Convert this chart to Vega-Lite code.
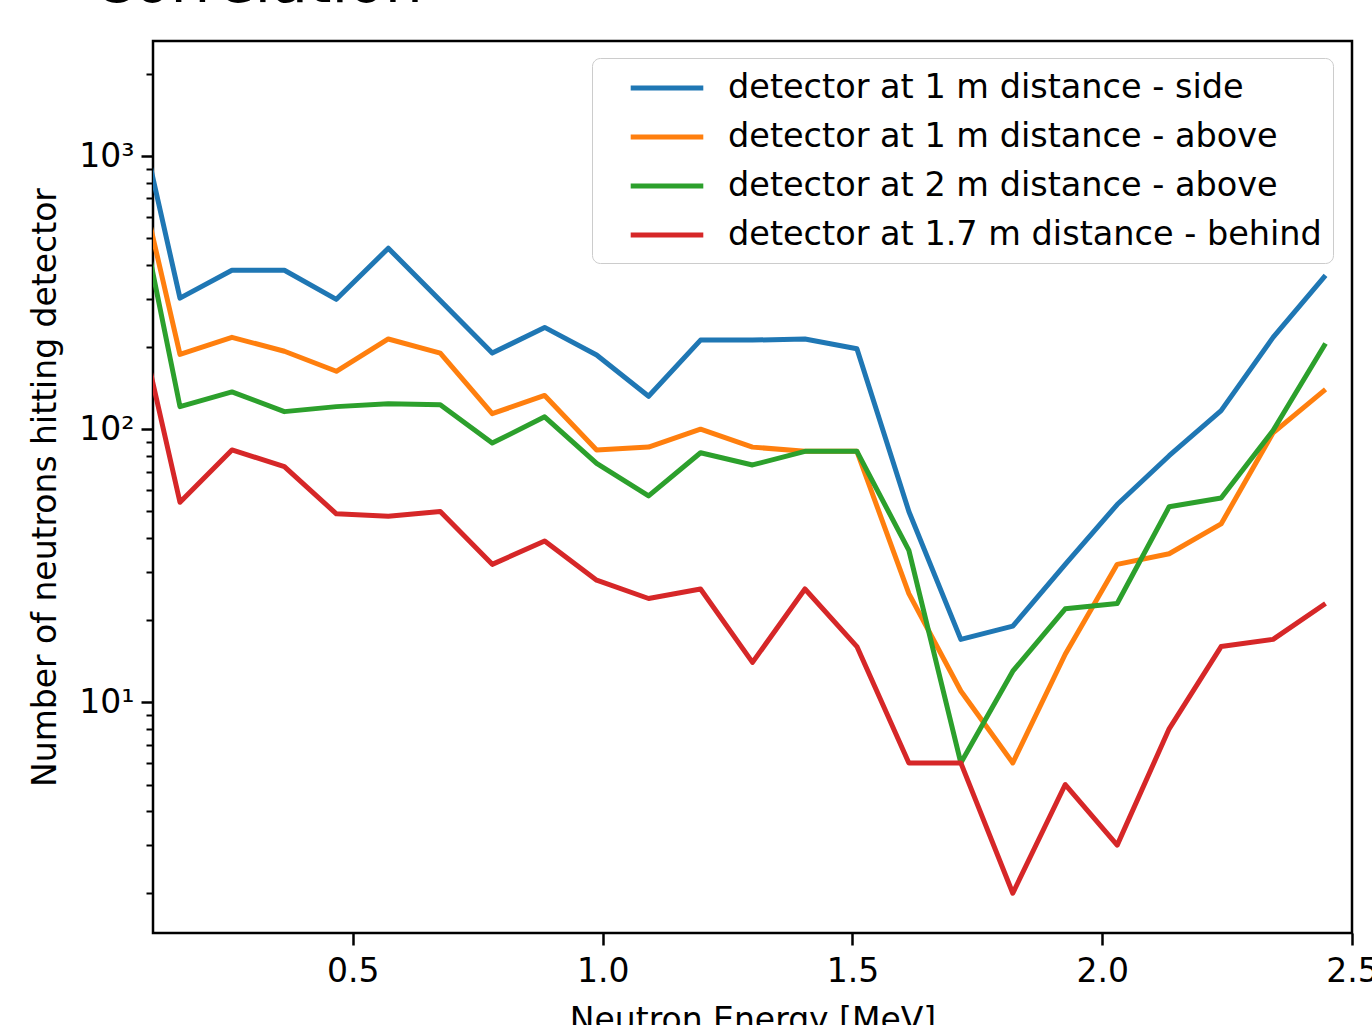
{
  "$schema": "https://vega.github.io/schema/vega-lite/v6.json",
  "autosize": {"type": "none"},
  "width": 1199,
  "height": 892,
  "padding": {"left": 153, "top": 41, "right": 20, "bottom": 92},
  "background": "white",
  "config": {
    "font": "DejaVu Sans",
    "view": {"stroke": "black", "strokeWidth": 2.5}
  },
  "title": {
    "text": "Correlation",
    "anchor": "start",
    "frame": "group",
    "dx": -61,
    "offset": -21,
    "fontSize": 60,
    "fontWeight": "normal",
    "baseline": "alphabetic",
    "color": "black"
  },
  "data": {
    "values": [
      {"E": 0.05, "d": "detector at 1 m distance - side", "n": 2113},
      {"E": 0.154, "d": "detector at 1 m distance - side", "n": 302},
      {"E": 0.258, "d": "detector at 1 m distance - side", "n": 382},
      {"E": 0.363, "d": "detector at 1 m distance - side", "n": 382},
      {"E": 0.467, "d": "detector at 1 m distance - side", "n": 299},
      {"E": 0.571, "d": "detector at 1 m distance - side", "n": 460},
      {"E": 0.675, "d": "detector at 1 m distance - side", "n": 296},
      {"E": 0.779, "d": "detector at 1 m distance - side", "n": 190},
      {"E": 0.884, "d": "detector at 1 m distance - side", "n": 236},
      {"E": 0.988, "d": "detector at 1 m distance - side", "n": 187},
      {"E": 1.092, "d": "detector at 1 m distance - side", "n": 132},
      {"E": 1.196, "d": "detector at 1 m distance - side", "n": 212},
      {"E": 1.3, "d": "detector at 1 m distance - side", "n": 212},
      {"E": 1.405, "d": "detector at 1 m distance - side", "n": 214},
      {"E": 1.509, "d": "detector at 1 m distance - side", "n": 197},
      {"E": 1.613, "d": "detector at 1 m distance - side", "n": 50},
      {"E": 1.717, "d": "detector at 1 m distance - side", "n": 17},
      {"E": 1.821, "d": "detector at 1 m distance - side", "n": 19},
      {"E": 1.926, "d": "detector at 1 m distance - side", "n": 32},
      {"E": 2.03, "d": "detector at 1 m distance - side", "n": 53},
      {"E": 2.134, "d": "detector at 1 m distance - side", "n": 80},
      {"E": 2.238, "d": "detector at 1 m distance - side", "n": 117},
      {"E": 2.342, "d": "detector at 1 m distance - side", "n": 217},
      {"E": 2.447, "d": "detector at 1 m distance - side", "n": 366},

      {"E": 0.05, "d": "detector at 1 m distance - above", "n": 1253},
      {"E": 0.154, "d": "detector at 1 m distance - above", "n": 188},
      {"E": 0.258, "d": "detector at 1 m distance - above", "n": 217},
      {"E": 0.363, "d": "detector at 1 m distance - above", "n": 193},
      {"E": 0.467, "d": "detector at 1 m distance - above", "n": 163},
      {"E": 0.571, "d": "detector at 1 m distance - above", "n": 214},
      {"E": 0.675, "d": "detector at 1 m distance - above", "n": 190},
      {"E": 0.779, "d": "detector at 1 m distance - above", "n": 114},
      {"E": 0.884, "d": "detector at 1 m distance - above", "n": 133},
      {"E": 0.988, "d": "detector at 1 m distance - above", "n": 84},
      {"E": 1.092, "d": "detector at 1 m distance - above", "n": 86},
      {"E": 1.196, "d": "detector at 1 m distance - above", "n": 100},
      {"E": 1.3, "d": "detector at 1 m distance - above", "n": 86},
      {"E": 1.405, "d": "detector at 1 m distance - above", "n": 83},
      {"E": 1.509, "d": "detector at 1 m distance - above", "n": 83},
      {"E": 1.613, "d": "detector at 1 m distance - above", "n": 25},
      {"E": 1.717, "d": "detector at 1 m distance - above", "n": 11},
      {"E": 1.821, "d": "detector at 1 m distance - above", "n": 6},
      {"E": 1.926, "d": "detector at 1 m distance - above", "n": 15},
      {"E": 2.03, "d": "detector at 1 m distance - above", "n": 32},
      {"E": 2.134, "d": "detector at 1 m distance - above", "n": 35},
      {"E": 2.238, "d": "detector at 1 m distance - above", "n": 45},
      {"E": 2.342, "d": "detector at 1 m distance - above", "n": 97},
      {"E": 2.447, "d": "detector at 1 m distance - above", "n": 140},

      {"E": 0.05, "d": "detector at 2 m distance - above", "n": 1049},
      {"E": 0.154, "d": "detector at 2 m distance - above", "n": 121},
      {"E": 0.258, "d": "detector at 2 m distance - above", "n": 137},
      {"E": 0.363, "d": "detector at 2 m distance - above", "n": 116},
      {"E": 0.467, "d": "detector at 2 m distance - above", "n": 121},
      {"E": 0.571, "d": "detector at 2 m distance - above", "n": 124},
      {"E": 0.675, "d": "detector at 2 m distance - above", "n": 123},
      {"E": 0.779, "d": "detector at 2 m distance - above", "n": 89},
      {"E": 0.884, "d": "detector at 2 m distance - above", "n": 111},
      {"E": 0.988, "d": "detector at 2 m distance - above", "n": 75},
      {"E": 1.092, "d": "detector at 2 m distance - above", "n": 57},
      {"E": 1.196, "d": "detector at 2 m distance - above", "n": 82},
      {"E": 1.3, "d": "detector at 2 m distance - above", "n": 74},
      {"E": 1.405, "d": "detector at 2 m distance - above", "n": 83},
      {"E": 1.509, "d": "detector at 2 m distance - above", "n": 83},
      {"E": 1.613, "d": "detector at 2 m distance - above", "n": 36},
      {"E": 1.717, "d": "detector at 2 m distance - above", "n": 6},
      {"E": 1.821, "d": "detector at 2 m distance - above", "n": 13},
      {"E": 1.926, "d": "detector at 2 m distance - above", "n": 22},
      {"E": 2.03, "d": "detector at 2 m distance - above", "n": 23},
      {"E": 2.134, "d": "detector at 2 m distance - above", "n": 52},
      {"E": 2.238, "d": "detector at 2 m distance - above", "n": 56},
      {"E": 2.342, "d": "detector at 2 m distance - above", "n": 99},
      {"E": 2.447, "d": "detector at 2 m distance - above", "n": 206},

      {"E": 0.05, "d": "detector at 1.7 m distance - behind", "n": 372},
      {"E": 0.154, "d": "detector at 1.7 m distance - behind", "n": 54},
      {"E": 0.258, "d": "detector at 1.7 m distance - behind", "n": 84},
      {"E": 0.363, "d": "detector at 1.7 m distance - behind", "n": 73},
      {"E": 0.467, "d": "detector at 1.7 m distance - behind", "n": 49},
      {"E": 0.571, "d": "detector at 1.7 m distance - behind", "n": 48},
      {"E": 0.675, "d": "detector at 1.7 m distance - behind", "n": 50},
      {"E": 0.779, "d": "detector at 1.7 m distance - behind", "n": 32},
      {"E": 0.884, "d": "detector at 1.7 m distance - behind", "n": 39},
      {"E": 0.988, "d": "detector at 1.7 m distance - behind", "n": 28},
      {"E": 1.092, "d": "detector at 1.7 m distance - behind", "n": 24},
      {"E": 1.196, "d": "detector at 1.7 m distance - behind", "n": 26},
      {"E": 1.3, "d": "detector at 1.7 m distance - behind", "n": 14},
      {"E": 1.405, "d": "detector at 1.7 m distance - behind", "n": 26},
      {"E": 1.509, "d": "detector at 1.7 m distance - behind", "n": 16},
      {"E": 1.613, "d": "detector at 1.7 m distance - behind", "n": 6},
      {"E": 1.717, "d": "detector at 1.7 m distance - behind", "n": 6},
      {"E": 1.821, "d": "detector at 1.7 m distance - behind", "n": 2},
      {"E": 1.926, "d": "detector at 1.7 m distance - behind", "n": 5},
      {"E": 2.03, "d": "detector at 1.7 m distance - behind", "n": 3},
      {"E": 2.134, "d": "detector at 1.7 m distance - behind", "n": 8},
      {"E": 2.238, "d": "detector at 1.7 m distance - behind", "n": 16},
      {"E": 2.342, "d": "detector at 1.7 m distance - behind", "n": 17},
      {"E": 2.447, "d": "detector at 1.7 m distance - behind", "n": 23}
    ]
  },
  "mark": {"type": "line", "strokeWidth": 5, "clip": true, "strokeJoin": "round", "strokeCap": "butt"},
  "encoding": {
    "x": {
      "field": "E",
      "type": "quantitative",
      "scale": {"domain": [0.1, 2.5], "nice": false, "zero": false},
      "axis": {
        "title": "Neutron Energy [MeV]",
        "values": [0.5, 1.0, 1.5, 2.0, 2.5],
        "format": ".1f",
        "grid": false,
        "domain": false,
        "ticks": true,
        "tickSize": 12,
        "tickWidth": 2.5,
        "tickColor": "black",
        "labelFontSize": 33,
        "labelColor": "black",
        "labelPadding": 10,
        "labelFlush": false,
        "labelOverlap": false,
        "titleFontSize": 33,
        "titleFontWeight": "normal",
        "titleColor": "black",
        "titlePadding": 16
      }
    },
    "y": {
      "field": "n",
      "type": "quantitative",
      "scale": {"type": "log", "domain": [1.43, 2640], "nice": false, "zero": false},
      "axis": {
        "title": "Number of neutrons hitting detector",
        "values": [2, 3, 4, 5, 6, 7, 8, 9, 10, 20, 30, 40, 50, 60, 70, 80, 90, 100, 200, 300, 400, 500, 600, 700, 800, 900, 1000, 2000],
        "labelExpr": "datum.value == 10 ? '10¹' : datum.value == 100 ? '10²' : datum.value == 1000 ? '10³' : ''",
        "tickSize": {"condition": {"test": "datum.value == 10 || datum.value == 100 || datum.value == 1000", "value": 12}, "value": 7},
        "tickWidth": {"condition": {"test": "datum.value == 10 || datum.value == 100 || datum.value == 1000", "value": 2.5}, "value": 2},
        "tickColor": "black",
        "grid": false,
        "domain": false,
        "labelFontSize": 33,
        "labelColor": "black",
        "labelPadding": 7,
        "labelOverlap": false,
        "labelBound": false,
        "titleFontSize": 33,
        "titleFontWeight": "normal",
        "titleColor": "black",
        "titlePadding": 16
      }
    },
    "color": {
      "field": "d",
      "type": "nominal",
      "scale": {
        "domain": ["detector at 1 m distance - side", "detector at 1 m distance - above", "detector at 2 m distance - above", "detector at 1.7 m distance - behind"],
        "range": ["#1f77b4", "#ff7f0e", "#2ca02c", "#d62728"]
      },
      "legend": {
        "title": null,
        "orient": "none",
        "legendX": 439,
        "legendY": 17,
        "symbolType": "M-2.2,0H2.2",
        "symbolSize": 1089,
        "symbolStrokeWidth": 5,
        "labelFontSize": 33.5,
        "labelColor": "black",
        "labelOffset": 42,
        "symbolOffset": 45,
        "padding": 11,
        "rowPadding": 13,
        "labelLimit": 1000,
        "strokeColor": "#cccccc",
        "fillColor": "rgba(255,255,255,0.8)",
        "cornerRadius": 8
      }
    }
  }
}
